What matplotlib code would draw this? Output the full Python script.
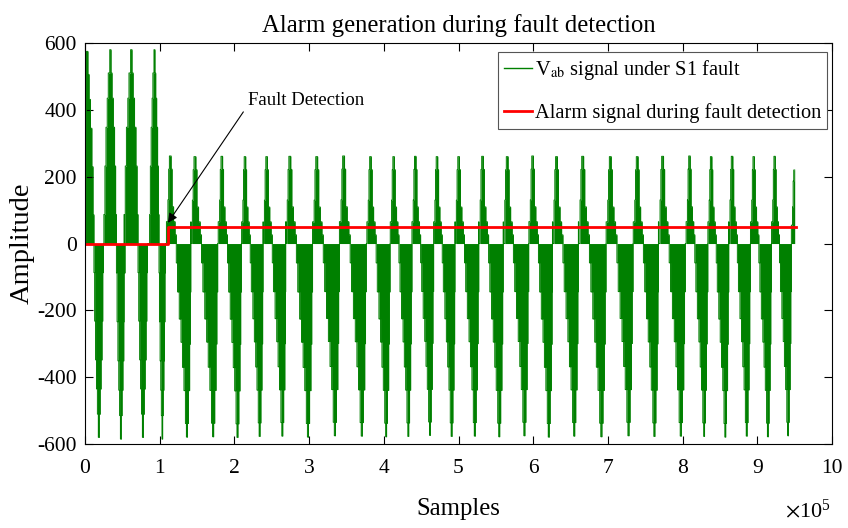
import numpy as np
import matplotlib
matplotlib.use('Agg')
import matplotlib.pyplot as plt

plt.rcParams['font.family'] = ['Liberation Serif', 'DejaVu Serif']
plt.rcParams['mathtext.fontset'] = 'stix'

# ---- signal data (sample positions in units of 1e5 samples) ----
# positive peaks of each cycle before the fault
pre_peaks = [0.03, 0.34, 0.62, 0.93]
pre_pos_amp = [575, 580, 580, 580]
pre_neg_amp = [580, 585, 580, 585]

# positive peaks of each cycle after the S1 fault
post_peaks = [1.14, 1.47, 1.83, 2.14, 2.43, 2.74, 3.10, 3.46, 3.82, 4.13,
              4.42, 4.71, 5.00, 5.32, 5.65, 5.99, 6.31, 6.66, 7.03, 7.39,
              7.73, 8.09, 8.38, 8.66, 8.95, 9.23, 9.495]
post_pos_amp = [262, 260, 261, 260, 260, 261, 260, 262, 260, 260,
                261, 260, 260, 261, 260, 262, 260, 261, 260, 260,
                261, 262, 260, 261, 260, 261, 220]
post_neg_amp = [579, 578, 580, 577, 576, 579, 575, 576, 578, 577,
                574, 577, 576, 578, 575, 579, 576, 578, 575, 577,
                576, 577, 579, 576, 578, 575, 0]

# staircase shape of one cycle: phase (fraction of period from the positive
# peak) and level (fraction of the lobe amplitude)
pre_phase = [-0.31, -0.26, -0.21, -0.15, -0.10, -0.03, 0.03, 0.08, 0.14, 0.20, 0.25,
             0.29, 0.32, 0.36, 0.40, 0.44, 0.48, 0.52, 0.56, 0.60, 0.64, 0.67, 0.70]
pre_level = [0.15, 0.4, 0.6, 0.75, 0.88, 1.0, 0.88, 0.75, 0.6, 0.4, 0.15,
             -0.15, -0.4, -0.6, -0.75, -0.88, -1.0, -0.88, -0.75, -0.6, -0.4, -0.15, 0.0]

post_phase = [-0.15, -0.09, -0.06, -0.03, 0.04, 0.08, 0.14, 0.20,
              0.25, 0.30, 0.37, 0.44, 0.50, 0.56, 0.62, 0.66, 0.70, 0.74, 0.79, 0.82, 0.85]
post_level = [0.25, 0.5, 0.85, 1.0, 0.85, 0.42, 0.25, 0.1,
              -0.1, -0.25, -0.39, -0.51, -0.64, -0.76, -0.93, -1.0, -0.93, -0.76, -0.52, -0.25, 0.0]

signal_end = 9.5

# alarm output: 0 until detection, then 50
alarm_t = [0.0, 1.107, 9.52]
alarm_level = [0, 50, 50]

# ---- build the stepped Vab waveform ----
peaks = pre_peaks + post_peaks
pos_amp = pre_pos_amp + post_pos_amp
neg_amp = pre_neg_amp + post_neg_amp
edges, levels = [0.0], [0.0]
for i, pk in enumerate(peaks):
    if i < len(pre_peaks):
        ph, lv = pre_phase, pre_level
    else:
        ph, lv = post_phase, post_level
    period = peaks[i + 1] - pk if i + 1 < len(peaks) else peaks[i] - peaks[i - 1]
    for p, l in zip(ph, lv):
        edges.append(pk + p * period)
        levels.append(l * (pos_amp[i] if l > 0 else neg_amp[i]))
edges = np.array(edges)
levels = np.array(levels)
order = np.argsort(edges, kind='stable')
edges, levels = edges[order], levels[order]
keep = edges < signal_end
edges = np.clip(edges[keep], 0, None)
levels = levels[keep]
edges = np.append(edges, signal_end) * 1e5
levels = np.append(levels, levels[-1])

# ---- plot ----
fig = plt.figure(figsize=(8.48, 5.28), dpi=100)
ax = fig.add_axes([0.1002, 0.159, 0.881, 0.7595])

green = '#008000'
ax.fill_between(edges, levels, 0, step='post', color=green, lw=0)
ax.step(edges, levels, where='post', color=green, lw=0.7,
        label=r'V$_{\mathrm{ab}}$ signal under S1 fault')
ax.step(np.array(alarm_t) * 1e5, alarm_level, where='post', color='red', lw=2,
        label='Alarm signal during fault detection')

# detection marker: arrow pointing at the alarm step
ax.annotate('', xy=(1.11e5, 62), xytext=(2.12e5, 394),
            arrowprops=dict(arrowstyle='-|>', color='black', lw=0.8,
                            shrinkA=0, shrinkB=0, mutation_scale=14))
ax.text(2.18e5, 428, 'Fault Detection', fontsize=13.5, va='center', ha='left')

ax.set_xlim(0, 10e5)
ax.set_ylim(-600, 600)
ax.set_xticks(np.arange(0, 11) * 1e5)
ax.set_xticklabels([str(i) for i in range(11)])
yt = np.arange(-600, 601, 200)
ax.set_yticks(yt)
ax.set_yticklabels([str(v) for v in yt])
ax.tick_params(direction='in', length=6, top=True, right=True, labelsize=15.5)
ax.tick_params(axis='x', pad=11)
ax.tick_params(axis='y', pad=6)
for s in ax.spines.values():
    s.set_linewidth(0.8)

ax.set_title('Alarm generation during fault detection', fontsize=17.8, pad=8)
ax.set_xlabel('Samples', fontsize=17.8, labelpad=14)
ax.set_ylabel('Amplitude', fontsize=20.5, labelpad=2)
ax.text(0.937, -0.165, r'$\times\mathregular{10^{5}}$', transform=ax.transAxes,
        fontsize=16, ha='left', va='center')

leg = ax.legend(loc='upper right', bbox_to_anchor=(0.9935, 0.978), fontsize=14.7,
                handlelength=1.35, handletextpad=0.15, borderpad=0.3,
                labelspacing=1.05, fancybox=False, framealpha=1, borderaxespad=0)
leg.get_frame().set_edgecolor('#555555')
leg.get_frame().set_linewidth(0.8)
leg.get_lines()[0].set_linewidth(1.0)

fig.savefig('out.png', dpi=100)
